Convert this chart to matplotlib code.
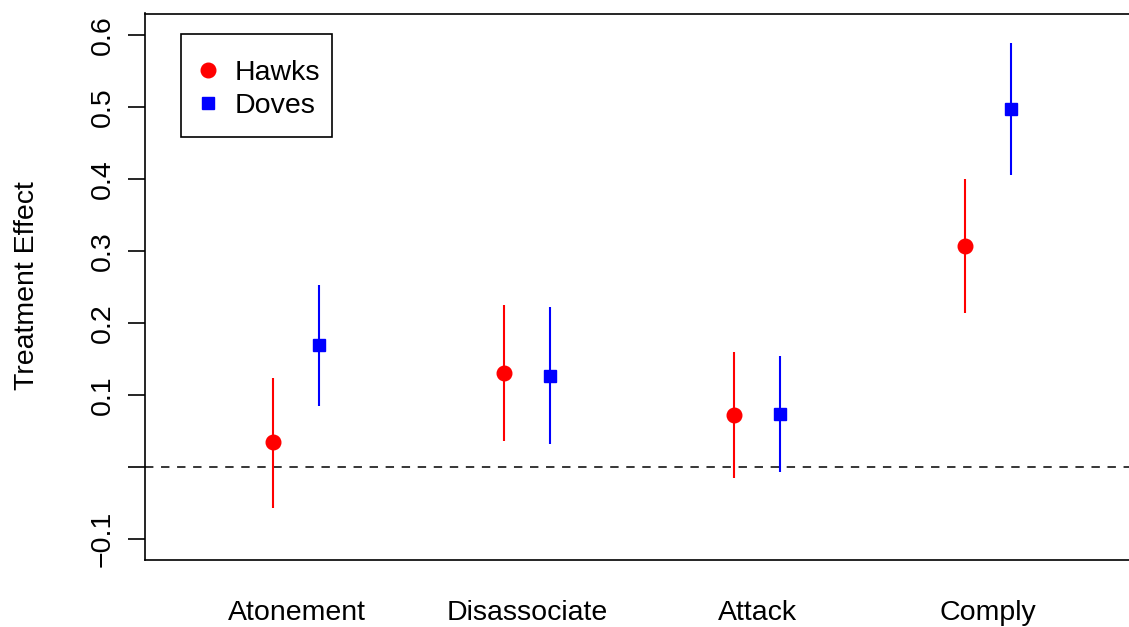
import matplotlib
matplotlib.use('Agg')
import matplotlib.pyplot as plt
import matplotlib.transforms as mtransforms
from matplotlib.patches import Rectangle

plt.rcParams['font.family'] = ['Liberation Sans', 'DejaVu Sans']

categories = ['Atonement', 'Disassociate', 'Attack', 'Comply']
hawks_est = [0.035, 0.131, 0.072, 0.307]
hawks_lo = [-0.057, 0.036, -0.015, 0.214]
hawks_hi = [0.124, 0.225, 0.160, 0.400]
doves_est = [0.169, 0.126, 0.074, 0.497]
doves_lo = [0.085, 0.032, -0.007, 0.406]
doves_hi = [0.253, 0.222, 0.154, 0.589]
yticks = [-0.1, 0.0, 0.1, 0.2, 0.3, 0.4, 0.5, 0.6]
ytick_labels = ['\u22120.1', '', '0.1', '0.2', '0.3', '0.4', '0.5', '0.6']

off = 0.1
xs = [i + 1 for i in range(len(categories))]
fs = 20.5

fig = plt.figure(figsize=(11.29, 6.27), dpi=100)
ax = fig.add_axes([145 / 1129, 67 / 627, 990 / 1129, 546.5 / 627])

ax.axhline(0, color='black', lw=1.1, dashes=(5.5, 5))

for x, e, lo, hi in zip(xs, hawks_est, hawks_lo, hawks_hi):
    ax.plot([x - off, x - off], [lo, hi], color='red', lw=1.5, solid_capstyle='butt')
for x, e, lo, hi in zip(xs, doves_est, doves_lo, doves_hi):
    ax.plot([x + off, x + off], [lo, hi], color='blue', lw=1.5, solid_capstyle='butt')

ax.plot([x - off for x in xs], hawks_est, 'o', color='red', ms=10.5, mec='red',
        ls='none', label='Hawks')
ax.plot([x + off for x in xs], doves_est, 's', color='blue', ms=9, mec='blue',
        ls='none', label='Doves')

ax.set_xlim(0.343, 4.638)
ax.set_ylim(-0.129, 0.630)
ax.set_xticks([])
ax.set_yticks(yticks)
ax.set_yticklabels(ytick_labels, rotation=90, va='center', fontsize=fs)
ax.tick_params(axis='y', length=12, width=1.2, pad=9)

for sp in ax.spines.values():
    sp.set_linewidth(1.2)

trans = mtransforms.blended_transform_factory(ax.transData, fig.transFigure)
for x, c in zip(xs, categories):
    ax.text(x, 1 - 613 / 627, c, transform=trans, ha='center', va='center', fontsize=fs)

fig.text(27 / 1129, 1 - 286 / 627, 'Treatment Effect', rotation=90,
         ha='center', va='center', fontsize=fs)

# legend box drawn by hand (R-style padding)
box = Rectangle((181 / 1129, 1 - 137 / 627), 151 / 1129, 103 / 627,
                transform=fig.transFigure, facecolor='white', edgecolor='black',
                lw=1.2, zorder=4, clip_on=False)
ax.add_patch(box)
leg = ax.legend(loc='upper left', bbox_to_anchor=(0.055, 0.9149), borderaxespad=0,
                frameon=False, fontsize=fs, handlelength=0.6,
                handletextpad=0.65, borderpad=0, labelspacing=0.25)
leg.set_zorder(5)

fig.savefig('out.png', dpi=100)
